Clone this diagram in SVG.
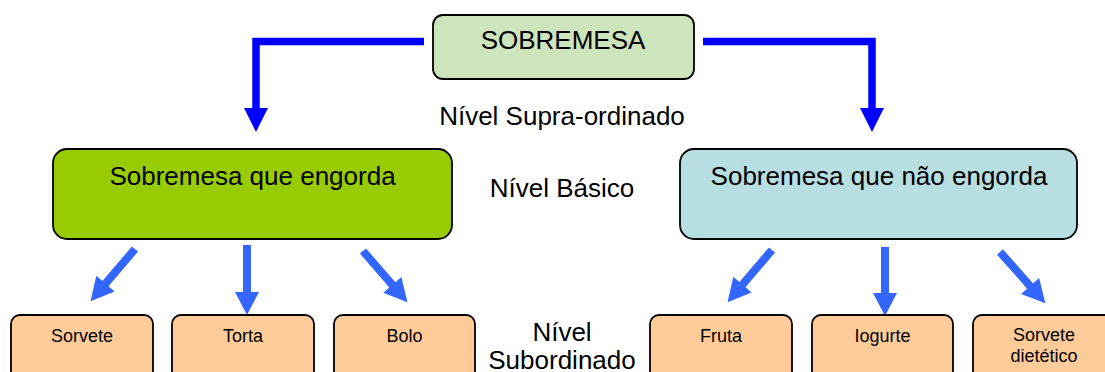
<svg xmlns="http://www.w3.org/2000/svg" width="1105" height="372" viewBox="0 0 1105 372">
  <style>
    .t { font-family: "Liberation Sans", Arial, sans-serif; fill: #000; text-anchor: middle; }
    .big { font-size: 26px; }
    .small { font-size: 18px; }
    .box { stroke: #000; stroke-width: 1.8; }
    .leaf { fill: #FFCC99; }
    .top-conn { fill: none; stroke: #0000FF; stroke-width: 7.5; stroke-linejoin: miter; }
    .arrow { stroke: #3366FF; stroke-width: 8; stroke-linecap: butt; marker-end: url(#head); }
  </style>
  <defs>
    <marker id="head" markerUnits="userSpaceOnUse" viewBox="0 -12 23 24" markerWidth="23" markerHeight="24" refX="1" refY="0" orient="auto" overflow="visible">
      <path d="M0,-12 L23,0 L0,12 z" fill="#3366FF"/>
    </marker>
  </defs>
  <rect width="1105" height="372" fill="#fff"/>

  <g id="connectors">
    <path class="top-conn" d="M424,41.5 H256 V109"/>
    <polygon points="244,108 268,108 256,132" fill="#0000FF"/>
    <path class="top-conn" d="M703,41.5 H872 V109"/>
    <polygon points="860,108 884,108 872,132" fill="#0000FF"/>

    <line class="arrow" x1="135" y1="249" x2="104.8" y2="284.4"/>
    <line class="arrow" x1="247" y1="245" x2="247" y2="293"/>
    <line class="arrow" x1="363" y1="251" x2="393" y2="285.6"/>
    <line class="arrow" x1="772" y1="250" x2="741.8" y2="285.4"/>
    <line class="arrow" x1="885" y1="247" x2="885" y2="294"/>
    <line class="arrow" x1="1000" y1="252" x2="1030.8" y2="286.8"/>
  </g>

  <g id="sobremesa">
    <rect class="box" x="433" y="15" width="261" height="64" rx="10" fill="#CDE4BC"/>
    <text class="t big" x="563" y="49">SOBREMESA</text>
  </g>

  <g id="label-supra">
    <text class="t big" x="562" y="125">Nível Supra-ordinado</text>
  </g>

  <g id="engorda">
    <rect class="box" x="53" y="149" width="399" height="90" rx="14" fill="#99CC00"/>
    <text class="t big" x="252.5" y="185">Sobremesa que engorda</text>
  </g>

  <g id="label-basico">
    <text class="t big" x="562" y="197">Nível Básico</text>
  </g>

  <g id="nao-engorda">
    <rect class="box" x="680" y="149" width="397" height="90" rx="14" fill="#B7DEE1"/>
    <text class="t big" x="879" y="185">Sobremesa que não engorda</text>
  </g>

  <g id="label-subordinado">
    <text class="t big" x="562" y="341">Nível</text>
    <text class="t big" x="562" y="369">Subordinado</text>
  </g>

  <g id="sorvete">
    <rect class="box leaf" x="11" y="315" width="142" height="72" rx="9"/>
    <text class="t small" x="82" y="342">Sorvete</text>
  </g>
  <g id="torta">
    <rect class="box leaf" x="172" y="315" width="142" height="72" rx="9"/>
    <text class="t small" x="243" y="342">Torta</text>
  </g>
  <g id="bolo">
    <rect class="box leaf" x="334" y="315" width="141" height="72" rx="9"/>
    <text class="t small" x="404.5" y="342">Bolo</text>
  </g>
  <g id="fruta">
    <rect class="box leaf" x="650" y="315" width="142" height="72" rx="9"/>
    <text class="t small" x="721" y="342">Fruta</text>
  </g>
  <g id="iogurte">
    <rect class="box leaf" x="812" y="315" width="141" height="72" rx="9"/>
    <text class="t small" x="882.5" y="342">Iogurte</text>
  </g>
  <g id="sorvete-dietetico">
    <rect class="box leaf" x="973" y="315" width="142" height="72" rx="9"/>
    <text class="t small" x="1044" y="341">Sorvete</text>
    <text class="t small" x="1044" y="362">dietético</text>
  </g>
</svg>
